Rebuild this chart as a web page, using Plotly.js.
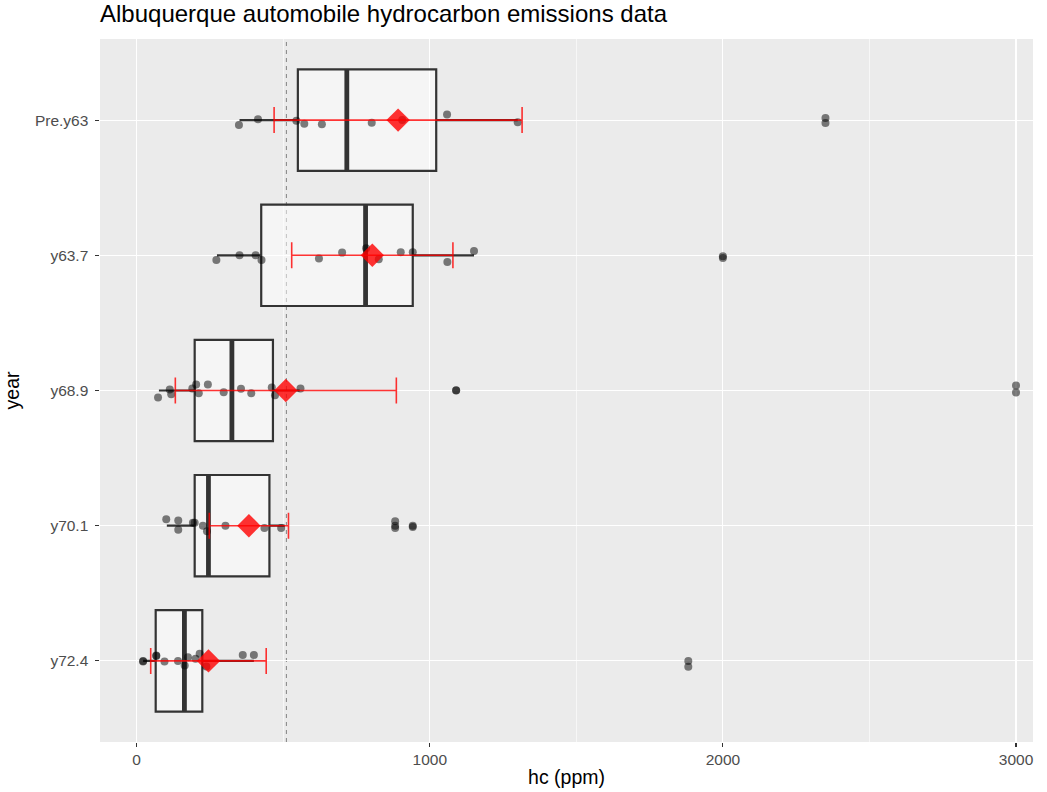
<!DOCTYPE html>
<html>
<head>
<meta charset="utf-8">
<script src="https://cdn.plot.ly/plotly-3.0.1.min.js"></script>
<style>html,body{margin:0;padding:0;background:#fff}#chart{width:1047px;height:792px}</style>
</head>
<body>
<div id="chart"></div>
<script>
// ---- data ----
const categories = ["Pre.y63", "y63.7", "y68.9", "y70.1", "y72.4"];

// jittered raw observations, hc (ppm)
const hcPre63 = [349, 414, 545, 572, 632, 802, 906, 1059, 1300, 2350, 2350];
const hcY63_7 = [272, 351, 406, 426, 622, 701, 783, 826, 901, 942, 1060, 1151, 2000, 2000];
const hcY68_9 = [73, 113, 118, 190, 203, 212, 243, 297, 356, 391, 461, 472, 559, 1090, 1090, 3000, 3000];
const hcY70_1 = [101, 142, 142, 192, 198, 226, 240, 303, 436, 493, 882, 882, 882, 942, 942];
const hcY72_4 = [22, 22, 67, 67, 95, 141, 164, 175, 201, 215, 238, 362, 400, 1882, 1882];

// vertical jitter offsets (category units, + = up)
const jitPre63 = [-0.037, 0.007, -0.005, -0.027, -0.030, -0.020, 0.000, 0.042, -0.015, 0.015, -0.022];
const jitY63_7 = [-0.035, 0.000, 0.000, -0.035, -0.024, 0.020, 0.052, -0.030, 0.022, 0.022, -0.050, 0.032, -0.007, -0.019];
const jitY68_9 = [-0.052, 0.007, -0.027, 0.015, 0.044, -0.020, 0.044, -0.013, 0.013, -0.020, 0.022, -0.035, 0.015, 0.000, 0.002, 0.037, -0.015];
const jitY70_1 = [0.047, 0.039, -0.030, 0.022, 0.022, 0.000, -0.042, 0.000, -0.017, -0.017, 0.032, -0.017, 0.000, 0.000, -0.010];
const jitY72_4 = [0.000, -0.004, 0.039, 0.037, -0.005, 0.000, -0.035, 0.027, 0.015, 0.052, -0.042, 0.044, 0.044, 0.000, -0.044];

// box statistics
const q1Vals     = [550, 425, 198, 198, 65];
const medianVals = [717, 781, 325, 245, 163];
const q3Vals     = [1022, 942, 465, 453, 224];
const lowerVals  = [351, 274, 76, 103, 22];
const upperVals  = [1300, 1151, 556, 505, 400];

// means and error-bar half widths
const meanVals = [892, 804, 509, 383, 245];
const errVals  = [423, 275, 377, 135, 197];

// reference (overall) line
const refLine = 511;

// ---- build ----
const hcGroups  = [hcPre63, hcY63_7, hcY68_9, hcY70_1, hcY72_4];
const jitGroups = [jitPre63, jitY63_7, jitY68_9, jitY70_1, jitY72_4];
const pos = categories.map((c, i) => categories.length - i);
const BOXW = 0.75;

const traces = [];

traces.push({
  type: 'box', orientation: 'h',
  y: pos, q1: q1Vals, median: medianVals, q3: q3Vals,
  lowerfence: lowerVals, upperfence: upperVals,
  boxpoints: false, width: BOXW, whiskerwidth: 0,
  line: {color: '#333333', width: 2.2},
  fillcolor: 'rgba(255,255,255,0.5)',
  hoverinfo: 'skip', showlegend: false
});

// thick median segments
medianVals.forEach((m, i) => {
  traces.push({
    type: 'scatter', mode: 'lines',
    x: [m, m], y: [pos[i] - BOXW / 2, pos[i] + BOXW / 2],
    line: {color: '#333333', width: 4.8},
    hoverinfo: 'skip', showlegend: false
  });
});

// jittered points
const px = [], py = [];
hcGroups.forEach((g, i) => g.forEach((v, j) => { px.push(v); py.push(pos[i] + jitGroups[i][j]); }));
traces.push({
  type: 'scatter', mode: 'markers', x: px, y: py,
  marker: {color: 'rgba(0,0,0,0.5)', size: 8, line: {width: 0}},
  hoverinfo: 'skip', showlegend: false
});

// mean +/- error
traces.push({
  type: 'scatter', mode: 'markers', x: meanVals, y: pos,
  error_x: {type: 'data', array: errVals, visible: true, color: 'rgba(255,0,0,0.8)', thickness: 1.6, width: 13},
  marker: {symbol: 'diamond', size: 18, color: 'rgba(255,0,0,0.8)', line: {width: 0}},
  hoverinfo: 'skip', showlegend: false
});

const layout = {
  width: 1047, height: 792,
  margin: {l: 100, r: 14, t: 39, b: 50},
  paper_bgcolor: '#ffffff', plot_bgcolor: '#EBEBEB',
  font: {family: 'Liberation Sans, Arial, sans-serif', color: '#4D4D4D', size: 15.5},
  title: {
    text: 'Albuquerque automobile hydrocarbon emissions data',
    x: 100 / 1047, xref: 'container', xanchor: 'left',
    y: 1 - 14 / 792, yref: 'container', yanchor: 'middle',
    font: {size: 24, color: '#000000'}
  },
  xaxis: {
    range: [-125, 3058], dtick: 1000, tick0: 0,
    showgrid: true, gridcolor: '#FFFFFF', gridwidth: 1.2,
    minor: {dtick: 500, tick0: 0, showgrid: true, gridcolor: '#FFFFFF', gridwidth: 0.6, ticks: ''},
    zeroline: false, showline: false, automargin: false,
    ticks: 'outside', ticklen: 3.6, tickcolor: '#333333', tickwidth: 1.1,
    tickfont: {size: 15.5, color: '#4D4D4D'},
    title: {text: 'hc (ppm)', font: {size: 19.5, color: '#000000'}, standoff: 3}
  },
  yaxis: {
    range: [0.4, 5.6], tickvals: pos, ticktext: categories,
    showgrid: true, gridcolor: '#FFFFFF', gridwidth: 1.2,
    zeroline: false, showline: false, automargin: false,
    ticks: 'outside', ticklen: 3.6, tickcolor: '#333333', tickwidth: 1.1,
    ticklabelstandoff: 4,
    tickfont: {size: 15.5, color: '#4D4D4D'},
    title: {text: 'year', font: {size: 19.5, color: '#000000'}, standoff: 10}
  },
  shapes: [{
    type: 'line', xref: 'x', yref: 'paper', x0: refLine, x1: refLine, y0: 0, y1: 1,
    line: {color: '#8C8C8C', width: 1.1, dash: '4px,4px'}, layer: 'between'
  }]
};

Plotly.newPlot('chart', traces, layout, {displayModeBar: false, staticPlot: true});
</script>
</body>
</html>
